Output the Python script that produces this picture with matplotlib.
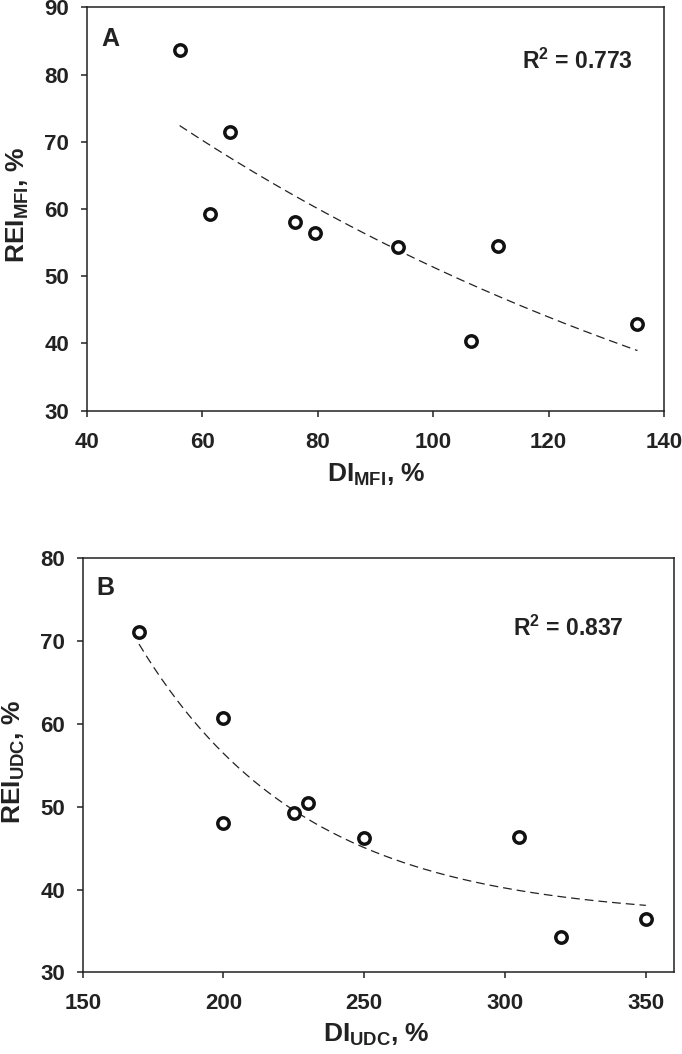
import numpy as np
import matplotlib
matplotlib.use("Agg")
import matplotlib.pyplot as plt

plt.rcParams['font.family'] = ['Liberation Sans', 'DejaVu Sans']
plt.rcParams['font.weight'] = 'bold'
plt.rcParams['mathtext.fontset'] = 'custom'
plt.rcParams['mathtext.rm'] = 'Liberation Sans:bold'
plt.rcParams['mathtext.bf'] = 'Liberation Sans:bold'
plt.rcParams['mathtext.it'] = 'Liberation Sans:bold'

# Panel A data
di_mfi = [56.1, 64.9, 61.3, 76.0, 79.5, 93.9, 111.3, 106.5, 135.4]
rei_mfi = [83.6, 71.4, 59.3, 58.0, 56.5, 54.4, 54.5, 40.3, 42.9]
r2_a = "0.773"
xticks_a = [40, 60, 80, 100, 120, 140]
yticks_a = [30, 40, 50, 60, 70, 80, 90]

# Panel B data
di_udc = [170, 200, 200, 225, 230, 250, 305, 320, 350]
rei_udc = [71.1, 60.7, 48.0, 49.2, 50.4, 46.2, 46.4, 34.3, 36.4]
r2_b = "0.837"
xticks_b = [150, 200, 250, 300, 350]
yticks_b = [30, 40, 50, 60, 70, 80]

W, H = 682, 1054
fig = plt.figure(figsize=(W / 100, H / 100), dpi=100)


def fx(px):
    return px / W


def fy(py):
    return 1 - py / H


def fit_exp2(x, y):
    # y = a*exp(-b x), least squares over b grid
    x = np.asarray(x, float); y = np.asarray(y, float)
    best = None
    for b in np.linspace(0.0, 0.05, 5001):
        e = np.exp(-b * x)
        a = (e @ y) / (e @ e)
        s = np.sum((y - a * e) ** 2)
        if best is None or s < best[0]:
            best = (s, a, b)
    return best[1], best[2]


def fit_exp3(x, y):
    # y = y0 + a*exp(-b x)
    x = np.asarray(x, float); y = np.asarray(y, float)
    best = None
    for b in np.linspace(0.001, 0.06, 5901):
        e = np.exp(-b * x)
        M = np.column_stack([np.ones_like(x), e])
        coef, *_ = np.linalg.lstsq(M, y, rcond=None)
        s = np.sum((y - M @ coef) ** 2)
        if best is None or s < best[0]:
            best = (s, coef[0], coef[1], b)
    return best[1], best[2], best[3]


def style(ax):
    for sp in ax.spines.values():
        sp.set_linewidth(1.1)
        sp.set_color('#222222')
    ax.tick_params(direction='out', length=4.5, width=1.1, colors='#222222',
                   labelsize=16, labelcolor='#222222')
    ax.tick_params(axis='x', pad=10.5)
    ax.tick_params(axis='y', pad=8)
    for lab in ax.get_xticklabels() + ax.get_yticklabels():
        lab.set_fontweight('bold')


mk = dict(marker='o', ms=8.2, mfc='white', mec='#111111', mew=2.5, ls='none', zorder=3)
ln = dict(color='#222222', lw=0.9, ls=(0, (7, 4)), zorder=2)

# ---------------- Panel A ----------------
axA = fig.add_axes([fx(86.7), fy(410.7), fx(664) - fx(86.7), fy(7.3) - fy(410.7)])
axA.set_xlim(40, 140)
axA.set_ylim(30, 90)
axA.set_xticks(xticks_a)
axA.set_yticks(yticks_a)
a, b = fit_exp2(di_mfi, rei_mfi)
xs = np.linspace(min(di_mfi), max(di_mfi), 200)
axA.plot(xs, a * np.exp(-b * xs), **ln)
axA.plot(di_mfi, rei_mfi, **mk)
style(axA)
fig.text(fx(101), fy(46), 'A', fontsize=18, fontweight='bold', color='#222222', va='baseline')
fig.text(fx(521.7), fy(69.3), r'R$^{2}$ = ' + r2_a, fontsize=16.5, fontweight='bold',
         color='#222222', va='baseline')
fig.text(fx(376), fy(481.7), r'DI$_{\mathrm{MFI}}$, %', fontsize=19, fontweight='bold',
         color='#222222', ha='center', va='baseline')
fig.text(fx(25), fy(205), r'REI$_{\mathrm{MFI}}$, %', fontsize=19, fontweight='bold',
         color='#222222', ha='center', va='baseline', rotation=90, rotation_mode='anchor')

# ---------------- Panel B ----------------
axB = fig.add_axes([fx(82.7), fy(972.3), fx(674) - fx(82.7), fy(558.3) - fy(972.3)])
axB.set_xlim(150, 360)
axB.set_ylim(30, 80)
axB.set_xticks(xticks_b)
axB.set_yticks(yticks_b)
y0, a3, b3 = fit_exp3(di_udc, rei_udc)
xs = np.linspace(min(di_udc), max(di_udc), 200)
axB.plot(xs, y0 + a3 * np.exp(-b3 * xs), **ln)
axB.plot(di_udc, rei_udc, **mk)
style(axB)
fig.text(fx(96.7), fy(595), 'B', fontsize=18, fontweight='bold', color='#222222', va='baseline')
fig.text(fx(513), fy(636), r'R$^{2}$ = ' + r2_b, fontsize=16.5, fontweight='bold',
         color='#222222', va='baseline')
fig.text(fx(376), fy(1042), r'DI$_{\mathrm{UDC}}$, %', fontsize=19, fontweight='bold',
         color='#222222', ha='center', va='baseline')
fig.text(fx(21), fy(762), r'REI$_{\mathrm{UDC}}$, %', fontsize=19, fontweight='bold',
         color='#222222', ha='center', va='baseline', rotation=90, rotation_mode='anchor')

fig.savefig('out.png', dpi=100, facecolor='white')
